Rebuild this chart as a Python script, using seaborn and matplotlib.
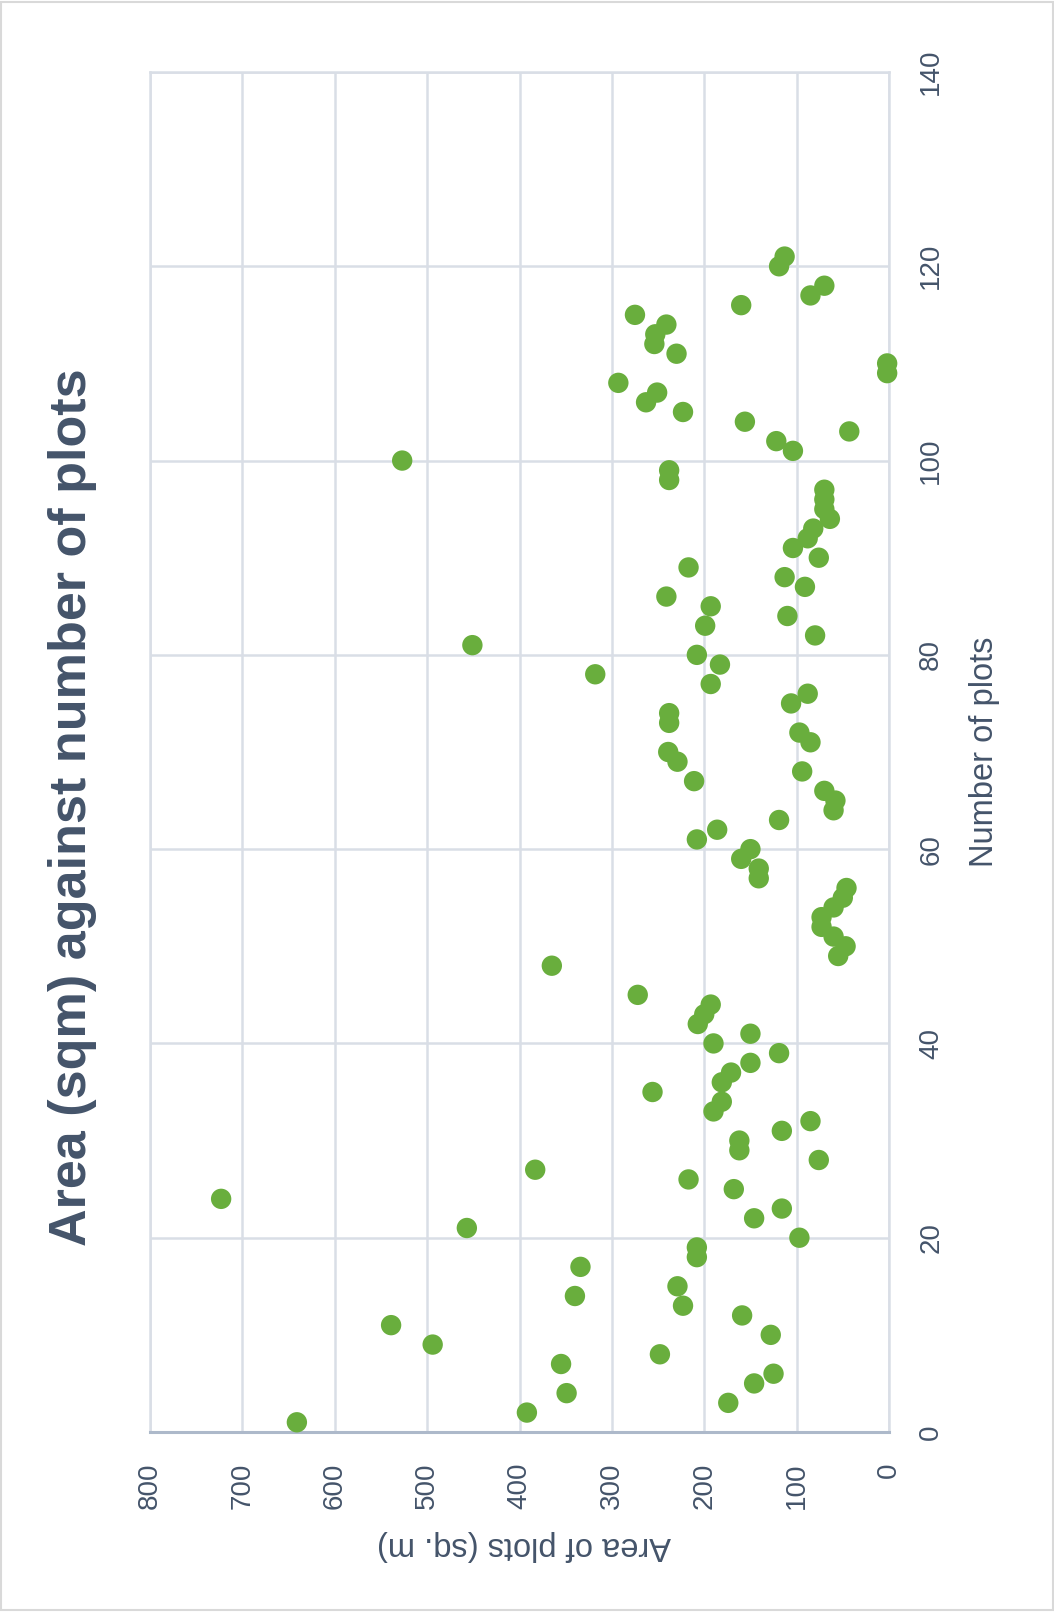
import matplotlib
matplotlib.use("Agg")
import matplotlib.pyplot as plt
from matplotlib import font_manager
from matplotlib.patches import Rectangle
import seaborn as sns
import pandas as pd

# Number of plots per site and the area of each plot (sq. m)
plots = [1, 2, 3, 4, 5, 6, 7, 8, 9, 10, 11, 12, 13, 14, 15, 17, 18, 19, 20,
         21, 22, 23, 24, 25, 26, 27, 28, 29, 30, 31, 32, 33, 34, 35, 36, 37,
         38, 39, 40, 41, 42, 43, 44, 45, 48, 49, 50, 51, 52, 53, 54, 55, 56,
         57, 58, 59, 60, 61, 62, 63, 64, 65, 66, 67, 68, 69, 70, 71, 72, 73,
         74, 75, 76, 77, 78, 79, 80, 81, 82, 83, 84, 85, 86, 87, 88, 89, 90,
         91, 92, 93, 94, 95, 96, 97, 98, 99, 100, 101, 102, 103, 104, 105,
         106, 107, 108, 109, 110, 111, 112, 113, 114, 115, 116, 117, 118,
         120, 121]
area = [641, 392, 174, 349, 146, 125, 355, 248, 494, 128, 539, 159, 223,
        340, 229, 334, 208, 208, 97, 457, 146, 116, 723, 168, 217, 383, 76,
        162, 162, 116, 85, 190, 181, 256, 181, 171, 150, 119, 190, 150, 207,
        200, 193, 272, 365, 55, 47, 60, 73, 73, 60, 50, 46, 141, 141, 160,
        150, 208, 186, 119, 60, 58, 70, 211, 94, 229, 239, 85, 97, 238, 238,
        106, 88, 193, 318, 183, 208, 451, 80, 199, 110, 193, 241, 91, 113,
        217, 76, 104, 88, 82, 64, 70, 70, 70, 238, 238, 527, 104, 122, 43,
        156, 223, 263, 251, 293, 2, 2, 230, 254, 253, 241, 275, 160, 85, 70,
        119, 113]

area_ticks = [0, 100, 200, 300, 400, 500, 600, 700, 800]
plot_ticks = [0, 20, 40, 60, 80, 100, 120, 140]

title = "Area (sqm) against number of plots"
plots_label = "Number of plots"
area_label = "Area of plots (sq. m)"

df = pd.DataFrame({"plots": plots, "area": area})

sns.set_style("white")
installed = {f.name for f in font_manager.fontManager.ttflist}
family = "Liberation Sans Narrow" if "Liberation Sans Narrow" in installed else "Liberation Sans"
plt.rcParams["font.family"] = [family, "DejaVu Sans"]

TEXT = "#44546A"
GRID = "#D9DEE6"
GREEN = "#69AE3D"

W, H = 1054, 1612
fig = plt.figure(figsize=(W / 100, H / 100), dpi=100)
fig.patch.set_facecolor("white")
fig.patches.append(Rectangle((0.001, 0.001), 0.998, 0.998, transform=fig.transFigure,
                             fill=False, edgecolor="#D9D9D9", linewidth=1.5))

left, right, top, bottom = 150, 889, 72, 1432
ax = fig.add_axes([left / W, 1 - bottom / H, (right - left) / W, (bottom - top) / H])

sns.scatterplot(data=df, x="area", y="plots", ax=ax, color=GREEN, s=215,
                linewidth=0, edgecolor="none", zorder=3, clip_on=False)

ax.set_xlim(800, 0)
ax.set_ylim(0, 140)
ax.set_xticks(area_ticks)
ax.set_yticks(plot_ticks)
ax.set_xticklabels([str(v) for v in area_ticks])
ax.set_yticklabels([str(v) for v in plot_ticks])

ax.grid(True, color=GRID, linewidth=1.8, zorder=0)
ax.set_axisbelow(True)
for side in ("left", "top", "right"):
    ax.spines[side].set_color(GRID)
    ax.spines[side].set_linewidth(1.8)
ax.spines["bottom"].set_color("#ADB9CA")
ax.spines["bottom"].set_linewidth(2.2)

ax.yaxis.tick_right()
ax.tick_params(axis="both", length=0, labelsize=20, labelcolor=TEXT)
ax.tick_params(axis="x", pad=22)
ax.tick_params(axis="y", pad=21)
for lbl in ax.get_xticklabels():
    lbl.set_rotation(90)
    lbl.set_va("top")
    lbl.set_ha("center")
for lbl in ax.get_yticklabels():
    lbl.set_rotation(90)
    lbl.set_va("center")
    lbl.set_ha("left")

ax.set_xlabel("")
ax.set_ylabel("")

fig.text(985 / W, 1 - 752 / H, plots_label, rotation=90, ha="center", va="center",
         fontsize=23.5, color=TEXT)
fig.text(524 / W, 1 - 1545 / H, area_label, rotation=180, ha="center", va="center",
         fontsize=23.5, color=TEXT)
fig.text(73 / W, 1 - 807 / H, title, rotation=90, ha="center", va="center",
         fontsize=37.5, fontweight="bold", color=TEXT)

fig.savefig("out.png", dpi=100, facecolor="white")
